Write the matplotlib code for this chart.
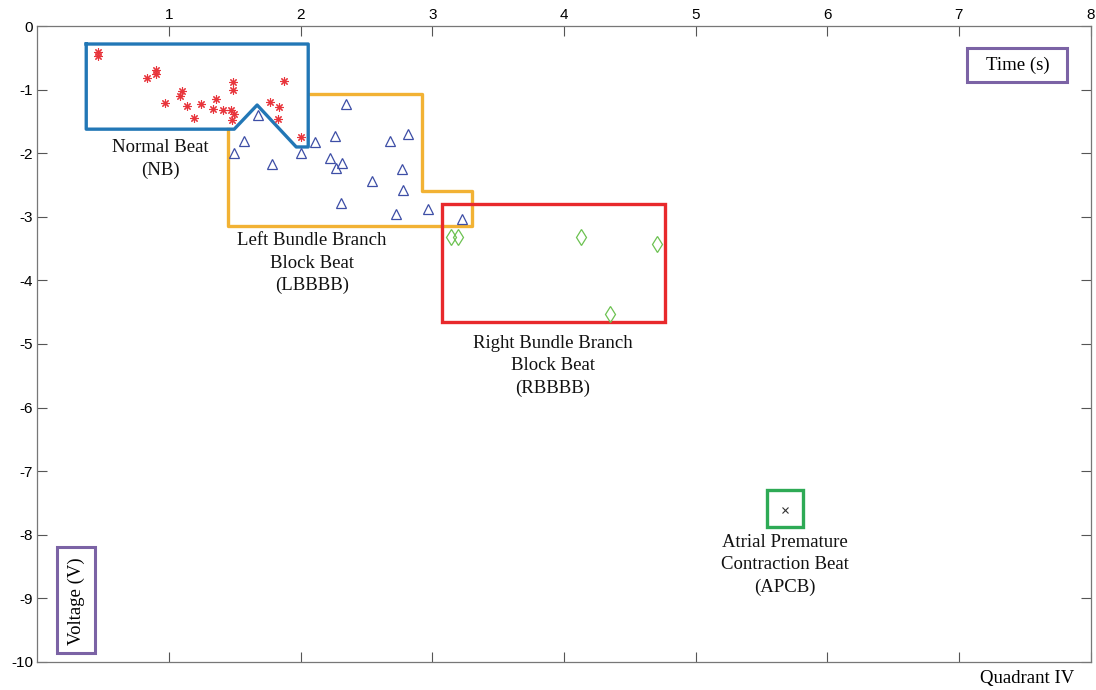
import matplotlib.pyplot as plt
from matplotlib.patches import Rectangle

plt.rcParams['axes.unicode_minus'] = False

# beat samples (time s, voltage V)
nb_t = [0.458, 0.461, 0.830, 0.904, 0.904, 0.967, 1.081, 1.099, 1.137, 1.192,
        1.245, 1.334, 1.354, 1.407, 1.473, 1.486, 1.486, 1.491, 1.480, 1.769,
        1.835, 1.828, 1.875, 2.002]
nb_v = [-0.40, -0.47, -0.81, -0.69, -0.755, -1.21, -1.10, -1.02, -1.25, -1.44,
        -1.22, -1.31, -1.14, -1.32, -1.32, -0.87, -1.01, -1.38, -1.47, -1.20,
        -1.27, -1.46, -0.86, -1.75]

lb_t = [1.673, 1.574, 1.496, 1.784, 2.000, 2.106, 2.344, 2.263, 2.680, 2.817,
        2.225, 2.318, 2.270, 2.541, 2.774, 2.781, 2.308, 2.726, 2.971, 3.225]
lb_v = [-1.40, -1.81, -1.99, -2.17, -1.99, -1.82, -1.23, -1.73, -1.80, -1.69,
        -2.07, -2.15, -2.23, -2.43, -2.25, -2.57, -2.78, -2.96, -2.88, -3.04]

rb_t = [3.141, 3.194, 4.128, 4.710, 4.349]
rb_v = [-3.31, -3.31, -3.31, -3.43, -4.53]

apc_t = [5.68]
apc_v = [-7.61]

# region outlines
nb_box_t = [0.372, 2.058, 2.058, 1.967, 1.670, 1.496, 0.372, 0.372]
nb_box_v = [-0.28, -0.28, -1.90, -1.90, -1.24, -1.62, -1.62, -0.28]
lb_box_t = [2.073, 2.923, 2.923, 3.303, 3.303, 1.450, 1.450]
lb_box_v = [-1.07, -1.07, -2.59, -2.59, -3.145, -3.145, -1.62]
rb_box = (3.075, -4.65, 4.768 - 3.075, 4.65 - 2.80)
apc_box = (5.543, -7.88, 5.816 - 5.543, 7.88 - 7.30)

serif = ['Liberation Serif', 'DejaVu Serif']
tick_font = ['Liberation Sans Narrow', 'Liberation Sans', 'DejaVu Sans']

fig = plt.figure(figsize=(10.96, 6.90), dpi=100)
ax = fig.add_axes([0.034, 0.041, 0.961, 0.921])

ax.plot(lb_box_t, lb_box_v, color='#f2b234', lw=2.4, zorder=2)
ax.plot(nb_box_t, nb_box_v, color='#2277b6', lw=2.4, zorder=3)
ax.add_patch(Rectangle(rb_box[:2], rb_box[2], rb_box[3], fill=False,
                       edgecolor='#e8292c', lw=2.4, zorder=2))
ax.add_patch(Rectangle(apc_box[:2], apc_box[2], apc_box[3], fill=False,
                       edgecolor='#2eaa55', lw=2.4, zorder=2))

ax.plot(nb_t, nb_v, ls='none', marker=(8, 2, 0), ms=6, mew=0.8,
        color='#e8353c', zorder=4)
ax.plot(lb_t, lb_v, ls='none', marker='^', ms=7.5, mew=0.9,
        mfc='none', mec='#3d4ea6', zorder=4)
ax.plot(rb_t, rb_v, ls='none', marker='d', ms=8, mew=0.9,
        mfc='none', mec='#6cc251', zorder=4)
ax.plot(apc_t, apc_v, ls='none', marker='x', ms=4, mew=0.8,
        color='#333333', zorder=4)

lbl = dict(ha='center', va='center', fontsize=13.5, family=serif,
           linespacing=1.42, color='#111111')
ax.text(0.934, -2.09, 'Normal Beat\n(NB)', **lbl)
ax.text(2.088, -3.73, 'Left Bundle Branch\nBlock Beat\n(LBBBB)', **lbl)
ax.text(3.918, -5.35, 'Right Bundle Branch\nBlock Beat\n(RBBBB)', **lbl)
ax.text(5.68, -8.475, 'Atrial Premature\nContraction Beat\n(APCB)', **lbl)

ax.set_xlim(0, 8)
ax.set_ylim(-10, 0)
ax.set_xticks(range(1, 9))
ax.set_yticks(range(-10, 1))
ax.tick_params(direction='in', length=7, width=0.8, color='#555555',
               top=True, bottom=True, left=True, right=True,
               labeltop=True, labelbottom=False, labelsize=11, pad=3)
for lab in ax.get_xticklabels() + ax.get_yticklabels():
    lab.set_family(tick_font)
for s in ax.spines.values():
    s.set_color('#777777')
    s.set_linewidth(0.9)

# purple axis-name boxes
purple = '#7b63a5'
ax.add_patch(Rectangle((0.883, 0.912), 0.095, 0.053, transform=ax.transAxes,
                       fill=False, edgecolor=purple, lw=2.2, zorder=5))
ax.text(0.931, 0.939, 'Time (s)', transform=ax.transAxes, ha='center',
        va='center', fontsize=13.5, family=serif)
ax.add_patch(Rectangle((0.019, 0.013), 0.036, 0.167, transform=ax.transAxes,
                       fill=False, edgecolor=purple, lw=2.2, zorder=5))
ax.text(0.037, 0.096, 'Voltage (V)', transform=ax.transAxes, ha='center',
        va='center', rotation=90, fontsize=13.5, family=serif)

fig.text(0.937, 0.017, 'Quadrant IV', ha='center', va='center',
         fontsize=13.5, family=serif)

fig.savefig('out.png', dpi=100)
